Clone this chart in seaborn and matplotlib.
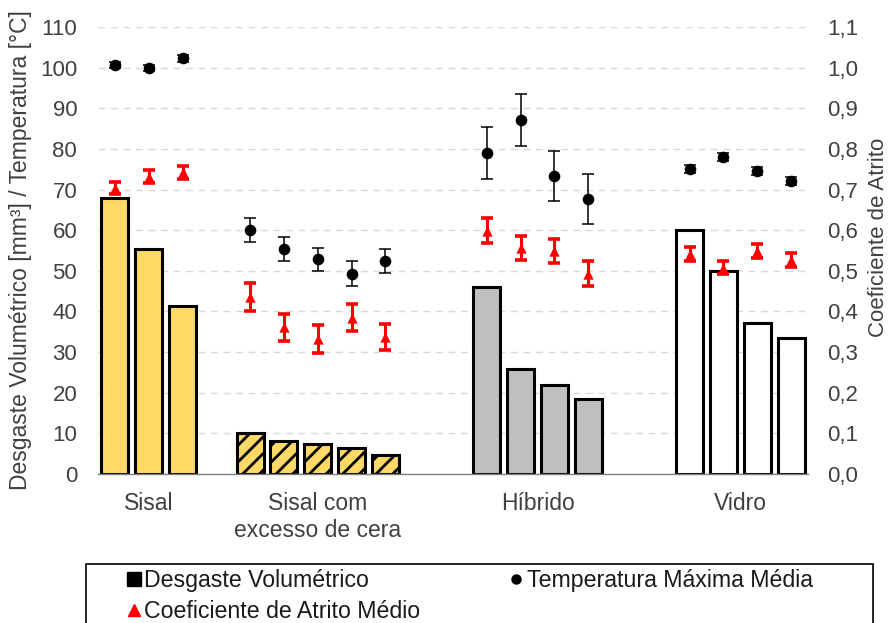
import numpy as np
import pandas as pd
import matplotlib
matplotlib.use("Agg")
import matplotlib.pyplot as plt
import seaborn as sns
from matplotlib.lines import Line2D
from matplotlib.patches import Rectangle
from matplotlib.ticker import FuncFormatter, MultipleLocator

# ---------------- data ----------------
groups = ["Sisal", "Sisal com\nexcesso de cera", "Híbrido", "Vidro"]

desg_sisal = [67.8, 55.4, 41.4]
desg_cera = [10.0, 8.2, 7.5, 6.5, 4.6]
desg_hibrido = [45.9, 25.9, 22.0, 18.5]
desg_vidro = [60.1, 49.9, 37.2, 33.5]

temp_sisal = [100.6, 99.9, 102.3]
temp_cera = [60.0, 55.3, 52.8, 49.3, 52.4]
temp_hibrido = [79.0, 87.2, 73.4, 67.7]
temp_vidro = [75.0, 78.1, 74.6, 72.0]

temp_err_sisal = [0.8, 0.8, 0.8]
temp_err_cera = [2.9, 3.0, 2.9, 3.0, 2.9]
temp_err_hibrido = [6.4, 6.4, 6.2, 6.2]
temp_err_vidro = [1.0, 1.0, 1.0, 1.0]

coef_sisal = [0.703, 0.732, 0.742]
coef_cera = [0.436, 0.361, 0.332, 0.385, 0.337]
coef_hibrido = [0.599, 0.556, 0.549, 0.493]
coef_vidro = [0.542, 0.507, 0.549, 0.527]

coef_err_sisal = [0.015, 0.016, 0.016]
coef_err_cera = [0.035, 0.033, 0.034, 0.034, 0.033]
coef_err_hibrido = [0.030, 0.029, 0.029, 0.031]
coef_err_vidro = [0.017, 0.016, 0.017, 0.017]

bar_colors = ["#FFD966", "#FFD966", "#BFBFBF", "#FFFFFF"]

# ---------------- build table ----------------
desg = [desg_sisal, desg_cera, desg_hibrido, desg_vidro]
temp = [temp_sisal, temp_cera, temp_hibrido, temp_vidro]
temp_err = [temp_err_sisal, temp_err_cera, temp_err_hibrido, temp_err_vidro]
coef = [coef_sisal, coef_cera, coef_hibrido, coef_vidro]
coef_err = [coef_err_sisal, coef_err_cera, coef_err_hibrido, coef_err_vidro]

empty_slots_before = [0, 1, 2, 2]  # layout: empty bar slots between groups
rows = []
pos = -1
for g, name in enumerate(groups):
    pos += empty_slots_before[g]
    for i in range(len(desg[g])):
        pos += 1
        rows.append(dict(grupo=name, pos=pos, desgaste=desg[g][i],
                         temp=temp[g][i], temp_err=temp_err[g][i],
                         coef=coef[g][i], coef_err=coef_err[g][i]))
df = pd.DataFrame(rows)

# ---------------- plot ----------------
sns.set_style("white")
plt.rcParams["font.family"] = ["Liberation Sans", "DejaVu Sans"]
plt.rcParams["hatch.linewidth"] = 2.0
plt.rcParams["hatch.color"] = "black"

TXT = "#404040"
fig = plt.figure(figsize=(8.88, 6.23), dpi=100)
ax = fig.add_axes([0.1104, 0.2392, 0.7995, 0.7175])

sns.barplot(data=df, x="pos", y="desgaste", hue="grupo", hue_order=groups,
            palette=dict(zip(groups, bar_colors)), native_scale=True,
            dodge=False, width=0.8, saturation=1, edgecolor="black",
            linewidth=2.2, legend=False, ax=ax, zorder=2)
cera_pos = set(df.loc[df.grupo == groups[1], "pos"])
for p in ax.patches:
    cx = p.get_x() + p.get_width() / 2
    if any(abs(cx - c) < 0.01 for c in cera_pos):
        p.set_hatch("//")

sns.scatterplot(data=df, x="pos", y="temp", color="black", marker="o", s=70,
                edgecolor="black", linewidth=0, ax=ax, zorder=4)
ax.errorbar(df.pos, df.temp, yerr=df.temp_err, fmt="none", ecolor="black",
            elinewidth=1.1, capsize=4, capthick=1.1, zorder=3)

ax.set_xlim(-0.5, 20.5)
ax.set_ylim(0, 110)
ax.yaxis.set_major_locator(MultipleLocator(10))
ax.grid(axis="y", color="#D9D9D9", linestyle=(0, (5, 4)), linewidth=1.0)
ax.grid(axis="x", visible=False)
ax.set_axisbelow(True)
for s in ["left", "right", "top"]:
    ax.spines[s].set_visible(False)
ax.spines["bottom"].set_color("#808080")
ax.spines["bottom"].set_linewidth(1.0)

centers = df.groupby("grupo", sort=False)["pos"].mean().reindex(groups)
ax.set_xticks(centers.values)
ax.set_xticklabels(groups, fontsize=16.5, color=TXT, linespacing=1.2)
ax.tick_params(axis="x", length=0, pad=13)
ax.tick_params(axis="y", length=0, pad=15, labelsize=16, labelcolor=TXT)
ax.set_xlabel("")
ax.set_ylabel("Desgaste Volumétrico [mm³] / Temperatura [°C]", fontsize=16.5,
              color=TXT, labelpad=6)

ax2 = ax.twinx()
sns.scatterplot(data=df, x="pos", y="coef", color="red", marker="^", s=55,
                linewidth=0, ax=ax2, zorder=4)
ax2.errorbar(df.pos, df.coef, yerr=df.coef_err, fmt="none", ecolor="red",
             elinewidth=2.2, capsize=4, capthick=2.6, zorder=3)
ax2.set_ylim(0, 1.1)
ax2.yaxis.set_major_locator(MultipleLocator(0.1))
ax2.yaxis.set_major_formatter(FuncFormatter(lambda v, _: f"{v:.1f}".replace(".", ",")))
ax2.tick_params(axis="y", length=0, pad=14, labelsize=16, labelcolor=TXT)
ax2.set_ylabel("Coeficiente de Atrito", fontsize=16, color=TXT)
ax2.yaxis.set_label_coords(1.084, 0.53)
ax2.set_xlabel("")
for s in ["left", "right", "top", "bottom"]:
    ax2.spines[s].set_visible(False)
ax2.grid(False)

# ---------------- legend ----------------
handles = [
    Line2D([], [], marker="s", color="black", linestyle="none", markersize=10),
    Line2D([], [], marker="^", color="red", linestyle="none", markersize=8),
    Line2D([], [], marker="o", color="black", linestyle="none", markersize=6.5),
]
labels = ["Desgaste Volumétrico", "Coeficiente de Atrito Médio",
          "Temperatura Máxima Média"]
fig.legend(handles, labels, loc="upper left",
           bbox_to_anchor=(0.144, 0.0865), bbox_transform=fig.transFigure,
           ncol=2, frameon=False, handlelength=0.5, handletextpad=0.2,
           columnspacing=3.9, labelspacing=0.33, fontsize=16.7,
           borderpad=0, borderaxespad=0, labelcolor="#1a1a1a")
fig.add_artist(Rectangle((0.0968, -0.05), 0.886, 0.0947 + 0.05,
                         transform=fig.transFigure, fill=False,
                         edgecolor="black", linewidth=1.2))

fig.savefig("out.png", dpi=100)
